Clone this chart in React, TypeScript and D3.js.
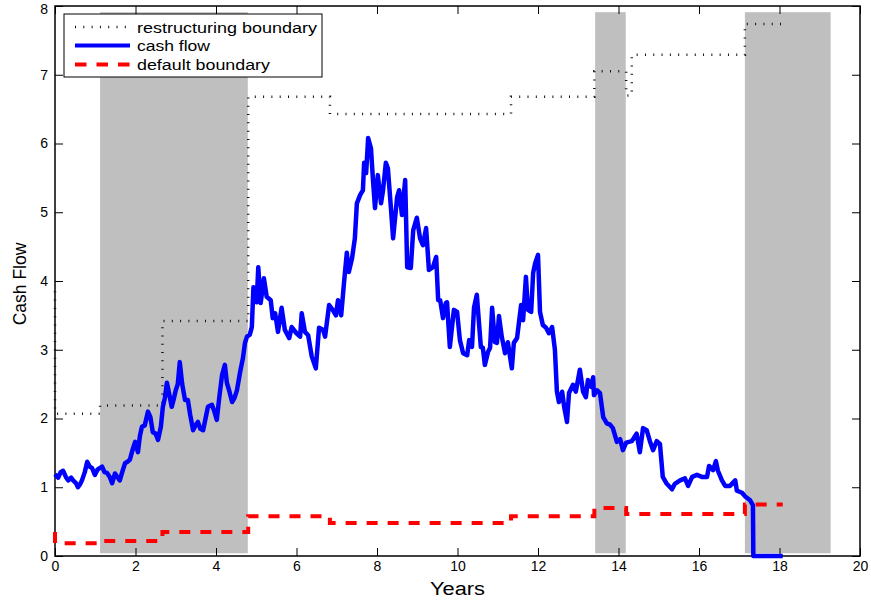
import React, { useEffect, useRef } from "react";
import * as d3 from "d3";

// cash flow path (years, value)
const cashYears = [
  0, 0.08, 0.14, 0.2, 0.27, 0.33, 0.4, 0.45, 0.52, 0.57, 0.62, 0.67, 0.74, 0.8, 0.86, 0.92, 0.99,
  1.06, 1.17, 1.23, 1.29, 1.36, 1.42, 1.49, 1.55, 1.61, 1.67, 1.74, 1.8, 1.86, 1.93, 1.99,
  2.06, 2.11, 2.16, 2.23, 2.31, 2.37, 2.43, 2.5, 2.56, 2.63, 2.68, 2.73, 2.78, 2.84, 2.9, 2.95,
  3.0, 3.05, 3.1, 3.16, 3.23, 3.3, 3.36, 3.43, 3.49, 3.55, 3.61, 3.68, 3.74, 3.8, 3.9, 3.96,
  4.02, 4.08, 4.15, 4.22, 4.27, 4.33, 4.4, 4.46, 4.52, 4.6, 4.67, 4.72, 4.77, 4.84, 4.89, 4.93,
  5.01, 5.05, 5.11, 5.19, 5.26, 5.36, 5.41, 5.47, 5.54, 5.63, 5.71, 5.82, 5.88,
  6.0, 6.09, 6.13, 6.21, 6.29, 6.38, 6.48, 6.56, 6.66, 6.71, 6.81, 6.9, 6.98,
  7.03, 7.11, 7.18, 7.25, 7.3, 7.38, 7.45, 7.5, 7.58, 7.65, 7.68, 7.73, 7.78, 7.85, 7.9, 7.95,
  8.02, 8.1, 8.15, 8.22, 8.27, 8.35, 8.4, 8.5, 8.55, 8.62, 8.7, 8.75, 8.84, 8.9, 8.99,
  9.07, 9.14, 9.22, 9.29, 9.39, 9.47, 9.52, 9.57, 9.64, 9.71, 9.74, 9.81, 9.91, 9.99,
  10.06, 10.14, 10.24, 10.29, 10.36, 10.41, 10.48, 10.58, 10.63, 10.68, 10.76, 10.81, 10.86, 10.93, 10.98,
  11.03, 11.1, 11.18, 11.25, 11.35, 11.4, 11.48, 11.58, 11.63, 11.7, 11.75, 11.83, 11.88, 11.93,
  12.0, 12.05, 12.12, 12.2, 12.27, 12.35, 12.42, 12.47, 12.52, 12.6, 12.65, 12.72, 12.77, 12.87, 12.94,
  13.04, 13.12, 13.19, 13.24, 13.32, 13.37, 13.39, 13.47, 13.54, 13.62, 13.71, 13.79, 13.86, 13.96,
  14.04, 14.11, 14.19, 14.33, 14.45, 14.53, 14.61, 14.7, 14.78, 14.86, 14.95,
  15.03, 15.1, 15.2, 15.33, 15.4, 15.53, 15.65, 15.73, 15.83, 15.95,
  16.07, 16.2, 16.25, 16.35, 16.42, 16.47, 16.57, 16.65, 16.77, 16.9, 16.94,
  17.07, 17.14, 17.27, 17.34, 17.35, 18.08,
];
const cashValues = [
  1.19, 1.14, 1.22, 1.24, 1.15, 1.1, 1.14, 1.1, 1.06, 1.0, 1.04, 1.1, 1.22, 1.37, 1.3, 1.28, 1.18,
  1.26, 1.3, 1.22, 1.21, 1.15, 1.06, 1.2, 1.15, 1.1, 1.22, 1.35, 1.37, 1.4, 1.55, 1.66,
  1.51, 1.75, 1.88, 1.9, 2.1, 2.02, 1.8, 1.78, 1.69, 1.88, 2.17, 2.3, 2.52, 2.35, 2.17, 2.28,
  2.41, 2.5, 2.82, 2.5, 2.27, 2.27, 2.05, 1.83, 1.9, 1.95, 1.85, 1.83, 2.0, 2.17, 2.2, 2.1,
  1.98, 2.3, 2.63, 2.78, 2.52, 2.4, 2.24, 2.3, 2.41, 2.68, 2.88, 3.1, 3.19, 3.22, 3.33, 3.91,
  3.69, 4.2, 3.68, 4.04, 3.77, 3.72, 3.46, 3.53, 3.26, 3.61, 3.29, 3.17, 3.33,
  3.24, 3.19, 3.53, 3.26, 3.21, 2.9, 2.73, 3.32, 3.29, 3.19, 3.65, 3.58, 3.5,
  3.72, 3.5, 3.97, 4.41, 4.13, 4.33, 4.62, 5.13, 5.25, 5.32, 5.72, 5.57, 6.08, 5.93, 5.47, 5.06,
  5.54, 5.13, 5.32, 5.72, 5.64, 5.03, 4.62, 5.22, 5.32, 4.96, 5.47, 4.2, 4.19, 4.74, 4.92,
  4.62, 4.52, 4.77, 4.16, 4.2, 4.35, 3.72, 3.72, 3.46, 3.68, 3.69, 3.04, 3.58, 3.55,
  3.14, 2.95, 2.92, 3.14, 3.04, 3.61, 3.8, 3.04, 3.03, 2.78, 2.97, 3.03, 3.61, 3.11, 3.1,
  3.49, 3.19, 2.95, 3.11, 2.73, 3.1, 3.17, 3.65, 3.43, 4.06, 3.58, 3.55, 4.12, 4.26,
  4.38, 3.55, 3.36, 3.32, 3.24, 3.33, 3.0, 2.39, 2.24, 2.39, 2.17, 1.95, 2.37, 2.49, 2.39,
  2.71, 2.39, 2.31, 2.56, 2.46, 2.6, 2.34, 2.41, 2.37, 2.02, 1.93, 1.91, 1.86, 1.66,
  1.7, 1.54, 1.65, 1.67, 1.78, 1.51, 1.86, 1.83, 1.67, 1.54, 1.67,
  1.63, 1.15, 1.05, 0.97, 1.05, 1.1, 1.13, 1.02, 1.15, 1.18,
  1.15, 1.15, 1.31, 1.25, 1.38, 1.24, 1.1, 1.02, 1.02, 1.1, 0.95,
  0.92, 0.87, 0.81, 0.74, 0, 0,
];

// step boundaries (value holds from each time to the next)
const restructTimes = [0, 0, 1.12, 2.67, 4.8, 6.83, 11.33, 13.4, 14.19, 14.33, 17.14, 18.1];
const restructLevels = [3.85, 2.07, 2.19, 3.42, 6.68, 6.43, 6.68, 7.05, 6.7, 7.29, 7.74, 7.74];

const defaultTimes = [0, 0, 1.12, 2.67, 4.8, 6.83, 11.33, 13.4, 14.19, 17.14, 18.08];
const defaultLevels = [0.35, 0.185, 0.22, 0.35, 0.58, 0.48, 0.58, 0.7, 0.61, 0.75, 0.75];

// shaded restructuring periods
const bandStart = [1.12, 13.42, 17.14];
const bandEnd = [4.79, 14.18, 19.27];

const legendLabels = ["restructuring boundary", "cash flow", "default boundary"];

const W = 871;
const H = 601;
const FONT = "'Liberation Sans', Arial, sans-serif";

const App: React.FC = () => {
  const axRef = useRef<SVGGElement>(null);

  const x = d3.scaleLinear().domain([0, 20]).range([55, 860]);
  const y = d3.scaleLinear().domain([0, 8]).range([556, 6]);

  const cash = cashYears.map((t, i) => [t, cashValues[i]] as [number, number]);
  const restr = restructTimes.map((t, i) => [t, restructLevels[i]] as [number, number]);
  const dflt = defaultTimes.map((t, i) => [t, defaultLevels[i]] as [number, number]);

  const line = d3
    .line<[number, number]>()
    .x((d) => x(d[0]))
    .y((d) => y(d[1]));
  const stepLine = d3
    .line<[number, number]>()
    .x((d) => x(d[0]))
    .y((d) => y(d[1]))
    .curve(d3.curveStepAfter);

  useEffect(() => {
    const g = d3.select(axRef.current!);
    g.selectAll("*").remove();

    const xb: any = d3.axisBottom(x).ticks(10).tickSize(-8).tickSizeOuter(0).tickPadding(5);
    const xt: any = d3.axisTop(x).ticks(10).tickSize(-8).tickSizeOuter(0).tickFormat(() => "");
    const yl: any = d3.axisLeft(y).ticks(8).tickSize(-8).tickSizeOuter(0).tickPadding(7);
    const yr: any = d3.axisRight(y).ticks(8).tickSize(-8).tickSizeOuter(0).tickFormat(() => "");

    g.append("g").attr("transform", "translate(0,556)").call(xb);
    g.append("g").attr("transform", "translate(0,6)").call(xt);
    const left = g.append("g").attr("transform", "translate(55,0)").call(yl);
    g.append("g").attr("transform", "translate(860,0)").call(yr);

    g.selectAll(".domain").remove();
    g.selectAll(".tick line").attr("stroke", "#000").attr("stroke-width", 1);
    g.selectAll(".tick text")
      .attr("font-family", FONT)
      .attr("font-size", 14)
      .attr("fill", "#000");
    g.selectAll("g").attr("font-family", FONT);
    // keep the top label inside the picture
    left
      .selectAll<SVGTextElement, number>(".tick text")
      .filter((d) => d === 8)
      .attr("dy", "0.5em");

    g.append("rect")
      .attr("x", 55)
      .attr("y", 6)
      .attr("width", 805)
      .attr("height", 550)
      .attr("fill", "none")
      .attr("stroke", "#000")
      .attr("stroke-width", 1.5);
  }, []);

  const legendRows = [27, 45.5, 64.5];

  return (
    <svg
      width={W}
      height={H}
      style={{ position: "absolute", left: 0, top: 0, background: "#fff" }}
    >
      <rect x={0} y={0} width={W} height={H} fill="#fff" />
      {bandStart.map((s, i) => (
        <rect
          key={i}
          x={x(s)}
          y={y(7.91)}
          width={x(bandEnd[i]) - x(s)}
          height={y(0.04) - y(7.91)}
          fill="#bfbfbf"
        />
      ))}
      <g ref={axRef} />
      <path
        d={stepLine(restr)!}
        fill="none"
        stroke="#111"
        strokeWidth={2.5}
        strokeDasharray="1,7.3"
      />
      <path
        d={line(cash)!}
        fill="none"
        stroke="#0000ff"
        strokeWidth={4.5}
        strokeLinejoin="round"
      />
      <path
        d={stepLine(dflt)!}
        fill="none"
        stroke="#ff0000"
        strokeWidth={4}
        strokeDasharray="11,10"
      />

      <g>
        <rect x={64} y={14} width={258} height={63} fill="#fff" stroke="#000" strokeWidth={1} />
        <line x1={75} x2={130} y1={legendRows[0]} y2={legendRows[0]} stroke="#111" strokeWidth={2.5} strokeDasharray="1,7.3" />
        <line x1={75} x2={130} y1={legendRows[1]} y2={legendRows[1]} stroke="#0000ff" strokeWidth={4} />
        <line x1={75} x2={130} y1={legendRows[2]} y2={legendRows[2]} stroke="#ff0000" strokeWidth={4} strokeDasharray="11.5,10" />
        {legendLabels.map((l, i) => (
          <text
            key={l}
            x={137}
            y={legendRows[i] + 5.5}
            fontFamily={FONT}
            fontSize={15.5}
            textLength={[180, 73, 133][i]}
            lengthAdjust="spacingAndGlyphs"
          >
            {l}
          </text>
        ))}
      </g>

      <text
        x={457.5}
        y={595}
        textAnchor="middle"
        fontFamily={FONT}
        fontSize={18}
        textLength={55}
        lengthAdjust="spacingAndGlyphs"
      >
        Years
      </text>
      <text
        transform="translate(26,284) rotate(-90)"
        textAnchor="middle"
        fontFamily={FONT}
        fontSize={17.5}
      >
        Cash Flow
      </text>
    </svg>
  );
};

export default App;
